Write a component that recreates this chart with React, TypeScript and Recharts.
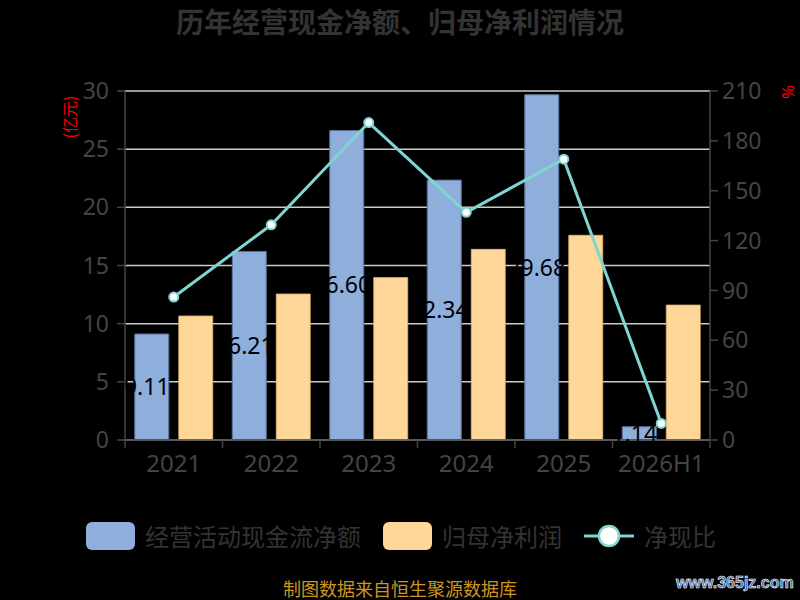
import React from 'react';
import {
  ComposedChart,
  Bar,
  Line,
  XAxis,
  YAxis,
  CartesianGrid,
  LabelList,
} from 'recharts';

const years = ['2021', '2022', '2023', '2024', '2025', '2026H1'];
const operatingCash = [9.11, 16.21, 26.6, 22.34, 29.68, 1.14];
const netProfit = [10.66, 12.55, 13.96, 16.39, 17.6, 11.6];
const cashRatio = [86, 129.5, 191, 137, 169, 10];
const leftTicks = [0, 5, 10, 15, 20, 25, 30];
const rightTicks = [0, 30, 60, 90, 120, 150, 180, 210];

const chartData = years.map((year, i) => ({
  year,
  cash: operatingCash[i],
  profit: netProfit[i],
  ratio: cashRatio[i],
}));

const FONT = '"Noto Sans", "Noto Sans CJK SC", sans-serif';
const CJK = '"Noto Sans CJK SC", sans-serif';
const AXIS = '#444';
const BLUE = '#8eaedb';
const YELLOW = '#ffd899';
const TEAL = '#80d4d2';

const PLOT_LEFT = 125;
const PLOT_RIGHT = 710;
const CAT_HALF = (PLOT_RIGHT - PLOT_LEFT) / years.length / 2;

function YearTick(props: any) {
  const { x, y, payload, index } = props;
  const axisY = y - 10;
  return (
    <g>
      <line x1={x - CAT_HALF} x2={x - CAT_HALF} y1={axisY} y2={axisY + 8} stroke={AXIS} strokeWidth={1.5} />
      {index === years.length - 1 && (
        <line x1={x + CAT_HALF} x2={x + CAT_HALF} y1={axisY} y2={axisY + 8} stroke={AXIS} strokeWidth={1.5} />
      )}
      <text x={x} y={y} dy="0.9em" textAnchor="middle" fill={AXIS} fontSize={24} fontFamily={FONT}>
        {payload.value}
      </text>
    </g>
  );
}

function LegendSwatch({ color }: { color: string }) {
  return <div style={{ width: 49, height: 28, borderRadius: 6, background: color }} />;
}

export default function App() {
  return (
    <div style={{ position: 'relative', width: 800, height: 600, background: '#000', overflow: 'hidden' }}>
      <style>{'body{margin:0;background:#000;}'}</style>
      <div
        style={{
          position: 'absolute',
          top: 1,
          width: 800,
          textAlign: 'center',
          fontFamily: CJK,
          fontWeight: 'bold',
          fontSize: 28,
          color: '#333',
        }}
      >
        历年经营现金净额、归母净利润情况
      </div>

      <ComposedChart
        width={800}
        height={600}
        data={chartData}
        margin={{ top: 91, left: 65, right: 30, bottom: 130 }}
        barCategoryGap="10%"
        barGap={10}
      >
        <CartesianGrid yAxisId="left" vertical={false} stroke="#ccc" strokeWidth={1.5} />
        <XAxis
          dataKey="year"
          height={30}
          interval={0}
          tickSize={8}
          tickMargin={2}
          tickLine={false}
          axisLine={{ stroke: AXIS, strokeWidth: 1.5 }}
          tick={<YearTick />}
        />
        <YAxis
          yAxisId="left"
          width={60}
          domain={[0, 30]}
          ticks={leftTicks}
          interval={0}
          tickSize={8}
          tickMargin={8}
          axisLine={{ stroke: AXIS, strokeWidth: 1.5 }}
          tickLine={{ stroke: AXIS, strokeWidth: 1.5 }}
          tick={{ fill: AXIS, fontSize: 23, fontFamily: FONT }}
        />
        <YAxis
          yAxisId="right"
          orientation="right"
          width={60}
          domain={[0, 210]}
          ticks={rightTicks}
          interval={0}
          tickSize={8}
          tickMargin={4}
          axisLine={{ stroke: AXIS, strokeWidth: 1.5 }}
          tickLine={{ stroke: AXIS, strokeWidth: 1.5 }}
          tick={{ fill: AXIS, fontSize: 23, fontFamily: FONT }}
        />
        <Bar yAxisId="left" dataKey="cash" fill={BLUE} stroke="#5d7299" strokeWidth={1} isAnimationActive={false}>
          <LabelList
            dataKey="cash"
            position="center"
            fill="#000"
            fontSize={23}
            fontFamily={FONT}
            dx={-5}
            formatter={(v: any) => Number(v).toFixed(2)}
          />
        </Bar>
        <Bar yAxisId="left" dataKey="profit" fill={YELLOW} stroke="#d9b46f" strokeWidth={0.8} isAnimationActive={false} />
        <Line
          yAxisId="right"
          dataKey="ratio"
          stroke={TEAL}
          strokeWidth={3}
          dot={{ r: 4.5, fill: '#fff', stroke: TEAL, strokeWidth: 2 }}
          activeDot={false}
          isAnimationActive={false}
        />
        <text x={69} y={117} transform="rotate(-90 69 117)" textAnchor="middle" dominantBaseline="central" fill="#ff0000" fontSize={16} fontFamily={CJK}>
          (亿元)
        </text>
        <text x={787} y={92} transform="rotate(-90 787 92)" textAnchor="middle" dominantBaseline="central" fill="#ff0000" fontSize={17} fontFamily={FONT}>
          %
        </text>
      </ComposedChart>

      <div
        style={{
          position: 'absolute',
          top: 522,
          left: 86,
          display: 'flex',
          alignItems: 'center',
          fontFamily: CJK,
          fontSize: 24,
          color: '#333',
          whiteSpace: 'nowrap',
        }}
      >
        <LegendSwatch color={BLUE} />
        <span style={{ marginLeft: 10, lineHeight: '28px' }}>经营活动现金流净额</span>
        <div style={{ marginLeft: 22 }}>
          <LegendSwatch color={YELLOW} />
        </div>
        <span style={{ marginLeft: 10, lineHeight: '28px' }}>归母净利润</span>
        <svg width={50} height={28} style={{ marginLeft: 22 }}>
          <line x1={0} x2={50} y1={14} y2={14} stroke={TEAL} strokeWidth={3} />
          <circle cx={25} cy={14} r={10} fill="#fff" stroke={TEAL} strokeWidth={2.5} />
        </svg>
        <span style={{ marginLeft: 10, lineHeight: '28px' }}>净现比</span>
      </div>

      <div
        style={{
          position: 'absolute',
          top: 578,
          width: 800,
          textAlign: 'center',
          fontFamily: CJK,
          fontSize: 18,
          color: '#cc961e',
          lineHeight: '20px',
        }}
      >
        制图数据来自恒生聚源数据库
      </div>
      <div
        style={{
          position: 'absolute',
          top: 574,
          left: 676,
          fontFamily: '"Liberation Sans", Arial, sans-serif',
          fontWeight: 'bold',
          fontSize: 16,
          lineHeight: '18px',
          color: '#3a68b0',
          WebkitTextStroke: '0.6px #fff',
        }}
      >
        www.365jz.com
      </div>
    </div>
  );
}
